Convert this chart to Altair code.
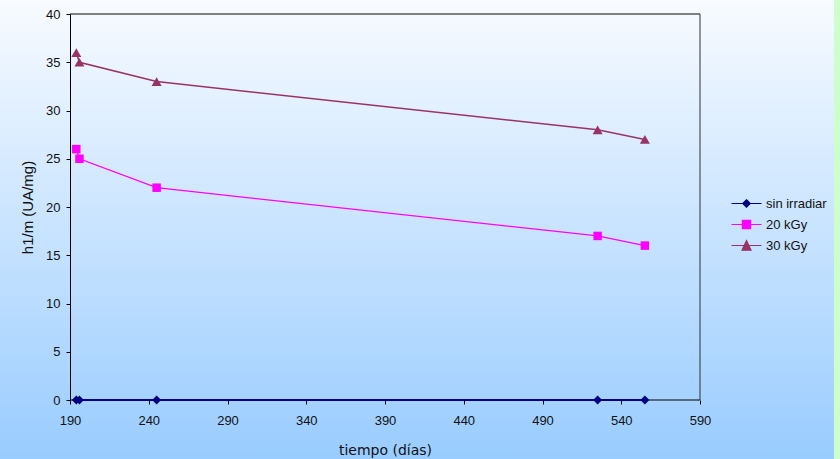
import altair as alt
import pandas as pd

# ---- data ----
series_names = ["sin irradiar", "20 kGy", "30 kGy"]
dias = [194, 196, 245, 525, 555]
sin_irradiar = [0, 0, 0, 0, 0]
kgy20 = [26, 25, 22, 17, 16]
kgy30 = [36, 35, 33, 28, 27]
x_ticks = [190, 240, 290, 340, 390, 440, 490, 540, 590]
y_ticks = [0, 5, 10, 15, 20, 25, 30, 35, 40]

colors = ["#000080", "#FF00FF", "#993366"]
marker_shapes = ["diamond", "square", "triangle-up"]
marker_sizes = [80, 72, 100]
line_widths = [2, 1.3, 1.5]
# legend symbols: short line with marker on it
legend_paths = [
    "M-2,0H2M0,-0.5L0.5,0L0,0.5L-0.5,0Z",
    "M-2,0H2M-0.55,-0.55H0.55V0.55H-0.55Z",
    "M-2,0H2M0,-0.65L0.6,0.62H-0.6Z",
]

rows = []
for name, vals in zip(series_names, [sin_irradiar, kgy20, kgy30]):
    for d, v in zip(dias, vals):
        rows.append({"series": name, "dias": d, "val": v})
df = pd.DataFrame(rows)
one = pd.DataFrame({"k": [0]})

W, H = 630, 386
PL, PT, PR, PB = 70, 14, 140, 59

xscale = alt.Scale(domain=[x_ticks[0], x_ticks[-1]], nice=False, zero=False)
yscale = alt.Scale(domain=[y_ticks[0], y_ticks[-1]], nice=False)

base_font = "Liberation Sans, Arial, sans-serif"

xaxis = alt.Axis(values=x_ticks, title="tiempo (días)", domain=False, grid=False,
                 tickColor="black", tickSize=4, labelFontSize=13, labelFont=base_font,
                 labelColor="#111", labelPadding=10, labelFlush=False,
                 titleFont="Comic Sans MS, DejaVu Sans",
                 titleFontSize=14, titleFontWeight="normal", titleColor="#111",
                 titlePadding=16, zindex=1)
yaxis = alt.Axis(values=y_ticks, title="h1/m (UA/mg)", domain=True, domainColor="black",
                 grid=False, tickColor="black", tickSize=4, labelFontSize=13,
                 labelFont=base_font, labelColor="#111", labelPadding=6, labelFlush=False,
                 titleFont=base_font, titleFontSize=15, titleFontWeight="normal",
                 titleColor="#111", titlePadding=10, zindex=1)

bg = alt.Chart(one).mark_rect(
    fill=alt.LinearGradient(
        gradient="linear",
        stops=[alt.GradientStop(color="#f8fbff", offset=0),
               alt.GradientStop(color="#99ccff", offset=1)],
        x1=0, x2=0, y1=0, y2=1),
).encode(x=alt.value(-PL), x2=alt.value(834 - PL), y=alt.value(-PT), y2=alt.value(459 - PT))

top_border = alt.Chart(one).mark_rule(color="#808080", strokeWidth=2).encode(
    x=alt.datum(x_ticks[0], scale=xscale, axis=xaxis), x2=alt.datum(x_ticks[-1]),
    y=alt.datum(y_ticks[-1], scale=yscale, axis=yaxis))
right_border = alt.Chart(one).mark_rule(color="#303030", strokeWidth=1).encode(
    x=alt.datum(x_ticks[-1]), y=alt.datum(y_ticks[0]), y2=alt.datum(y_ticks[-1]))
bottom_axis = alt.Chart(one).mark_rule(color="black", strokeWidth=1).encode(
    x=alt.datum(x_ticks[0]), x2=alt.datum(x_ticks[-1]), y=alt.datum(y_ticks[0]))

series_layers = []
for name, col, lw in zip(series_names, colors, line_widths):
    series_layers.append(
        alt.Chart(df).transform_filter(alt.datum.series == name)
        .mark_line(interpolate="linear", strokeWidth=lw, color=col)
        .encode(x="dias:Q", y="val:Q"))
for name, col, shp, sz in zip(series_names, colors, marker_shapes, marker_sizes):
    series_layers.append(
        alt.Chart(df).transform_filter(alt.datum.series == name)
        .mark_point(shape=shp, filled=True, color=col, size=sz, opacity=1)
        .encode(x="dias:Q", y="val:Q"))

leg = alt.Legend(title=None, orient="none", legendX=668, legendY=181, symbolSize=225,
                 symbolStrokeWidth=1.2, labelFontSize=13, labelFont=base_font,
                 labelColor="#111", labelOffset=11, rowPadding=5, padding=0, zindex=1)
legend_layer = alt.Chart(df).transform_filter("false").mark_point(filled=True, opacity=1).encode(
    x="dias:Q", y="val:Q",
    color=alt.Color("series:N", scale=alt.Scale(domain=series_names, range=colors), legend=leg),
    stroke=alt.Stroke("series:N", scale=alt.Scale(domain=series_names, range=colors), legend=leg),
    shape=alt.Shape("series:N", scale=alt.Scale(domain=series_names, range=legend_paths), legend=leg),
)

chart = alt.layer(bg, top_border, right_border, bottom_axis, *series_layers, legend_layer).properties(
    width=W, height=H,
    padding={"left": PL, "top": PT, "right": PR, "bottom": PB},
    autosize=alt.AutoSizeParams(type="none"),
).configure(background="#ccffcc").configure_view(stroke=None)

chart.save("out.html", embed_options={"renderer": "svg", "actions": False})
